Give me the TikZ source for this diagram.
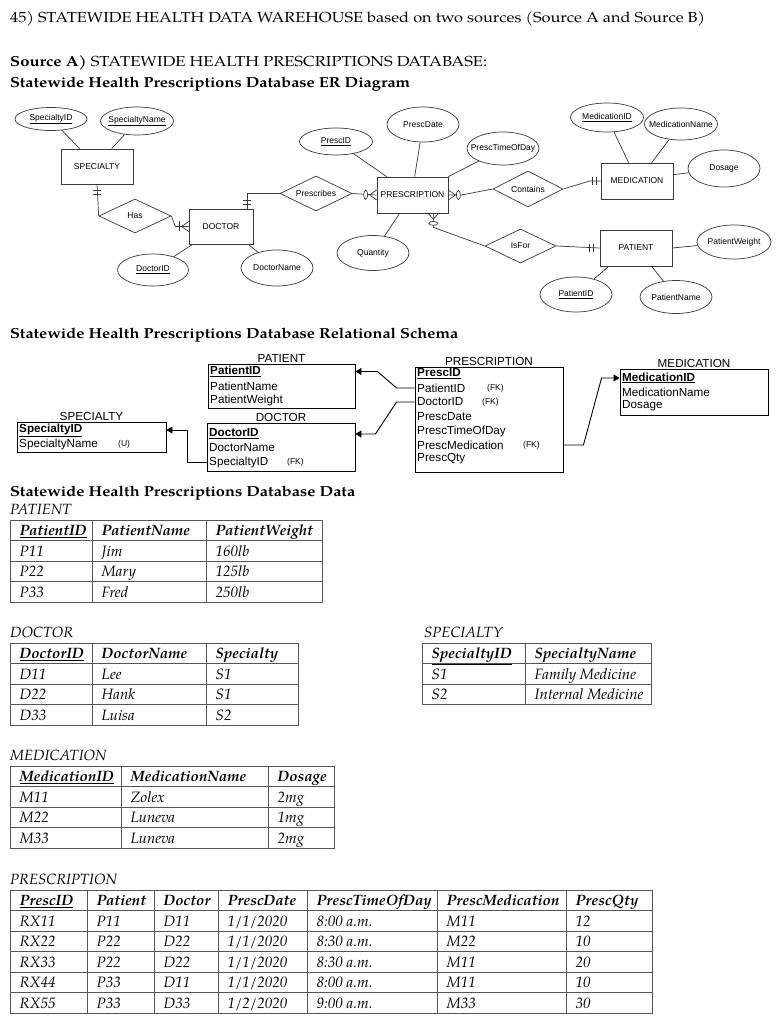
\documentclass[tikz,border=0pt]{standalone}
\usepackage{fontspec}
\setmainfont{texgyrepagella}[Extension=.otf,UprightFont=*-regular,BoldFont=*-bold,ItalicFont=*-italic,BoldItalicFont=*-bolditalic]
\newfontfamily\arialf{Liberation Sans}
\usepackage{graphicx}
\usetikzlibrary{shapes.geometric,arrows.meta,calc}
\definecolor{erc}{HTML}{3A3A3A}
\definecolor{tbc}{HTML}{555555}
\newcommand\zw[1]{\makebox[0pt][c]{#1}}
\newcommand\hd[1]{\textbf{#1}}
\newcommand\fitw[2]{\resizebox{#1}{\height}{#2}}
\newcommand\trow[5]{%
  \foreach \cc [count=\k from 0] in {#5} {%
    \pgfmathsetmacro\cx{{#4}[\k]}%
    \node[cell] (#1-#2-\k) at (\cx+9.5,#3+15.5) {\cc};
  }}
\tikzset{
 ent/.style={draw=erc, line width=0.7pt, inner sep=0pt, font=\arialf\fontsize{8.5}{10}\selectfont},
 attr/.style={ellipse, draw=erc, line width=0.7pt, inner sep=0pt, font=\arialf\fontsize{8.5}{10}\selectfont},
 rel/.style={diamond, draw=erc, line width=0.7pt, inner sep=0pt, font=\arialf\fontsize{8.5}{10}\selectfont},
 erl/.style={draw=erc, line width=0.7pt},
 sbox/.style={draw, line width=0.9pt, inner sep=0pt},
 slabel/.style={anchor=base, inner sep=0pt, font=\arialf\fontsize{11.7}{13}\selectfont},
 srow/.style={anchor=west, inner sep=0pt, font=\arialf\fontsize{11.7}{13}\selectfont},
 fk/.style={anchor=west, inner sep=0pt, font=\arialf\fontsize{8.5}{9}\selectfont},
 sar/.style={draw, line width=0.9pt, -{Triangle[length=6pt,width=7pt]}},
 tb/.style={draw=tbc, line width=0.9pt},
 cell/.style={anchor=base west, inner sep=0pt, font=\fontsize{15}{17}\selectfont\itshape},
 head/.style={anchor=base west, inner sep=0pt, font=\fontsize{14.5}{17}\selectfont},
 tlabel/.style={anchor=base west, inner sep=0pt, font=\fontsize{14.8}{17}\selectfont\itshape},
}
\begin{document}
\begin{tikzpicture}[x=1pt,y=-1pt]
\fill[white] (0,0) rectangle (783,1024);
\useasboundingbox (0,0) rectangle (783,1024);

% ---------- headings ----------
\node[head] (h1) at (10,23) {\fitw{695pt}{45) STATEWIDE HEALTH DATA WAREHOUSE based on two sources (Source A and Source B)}};
\node[head] (h2) at (10,67) {\fitw{477pt}{\textbf{Source A)} STATEWIDE HEALTH PRESCRIPTIONS DATABASE:}};
\node[head] (h3) at (10,88) {\fitw{400pt}{\textbf{Statewide Health Prescriptions Database ER Diagram}}};
\node[head] (h4) at (10,338) {\fitw{448pt}{\textbf{Statewide Health Prescriptions Database Relational Schema}}};
\node[head] (h5) at (10,496) {\fitw{345pt}{\textbf{Statewide Health Prescriptions Database Data}}};

% ---------- ER diagram ----------
\node[ent, minimum width=72pt, minimum height=35pt] (specialty) at (97,166.5) {SPECIALTY};
\node[attr, minimum width=72pt, minimum height=23pt] (spid) at (51,119) {\zw{\underline{SpecialtyID}}};
\node[attr, minimum width=73pt, minimum height=28pt] (spname) at (137,121) {\zw{\underline{SpecialtyName}}};
\node[rel, minimum width=72pt, minimum height=34pt] (has) at (135,216) {\zw{Has}};
\node[ent, minimum width=64pt, minimum height=35pt] (doctor) at (221,226.5) {DOCTOR};
\node[attr, minimum width=71pt, minimum height=32pt] (docid) at (153,270) {\zw{\underline{DoctorID}}};
\node[attr, minimum width=72pt, minimum height=36pt] (docname) at (277,268) {\zw{DoctorName}};
\node[rel, minimum width=72pt, minimum height=35pt] (prescribes) at (316,193.5) {\zw{Prescribes}};
\node[ent, minimum width=71pt, minimum height=36pt] (prescription) at (412.5,195) {PRESCRIPTION};
\node[attr, minimum width=73pt, minimum height=27pt] (prescid) at (336,141.5) {\zw{\underline{PrescID}}};
\node[attr, minimum width=72pt, minimum height=35pt] (prescdate) at (423,124.5) {\zw{PrescDate}};
\node[attr, minimum width=72pt, minimum height=33pt] (presctime) at (503,148.5) {\zw{PrescTimeOfDay}};
\node[attr, minimum width=72pt, minimum height=35pt] (quantity) at (373,253) {\zw{Quantity}};
\node[rel, minimum width=70pt, minimum height=36pt] (contains) at (528,189) {\zw{Contains}};
\node[ent, minimum width=72pt, minimum height=36pt] (medication) at (637,181) {MEDICATION};
\node[attr, minimum width=73pt, minimum height=29pt] (medid) at (607,117.5) {\zw{\underline{MedicationID}}};
\node[attr, minimum width=73pt, minimum height=32pt] (medname) at (681,124) {\zw{MedicationName}};
\node[attr, minimum width=72pt, minimum height=37pt] (dosage) at (724,168.5) {\zw{Dosage}};
\node[rel, minimum width=71pt, minimum height=34pt] (isfor) at (520.5,246) {\zw{IsFor}};
\node[ent, minimum width=72pt, minimum height=36pt] (patient) at (636,248) {PATIENT};
\node[attr, minimum width=74pt, minimum height=34pt] (pweight) at (734,242) {\zw{PatientWeight}};
\node[attr, minimum width=72pt, minimum height=35pt] (patid) at (576,294.5) {\zw{\underline{PatientID}}};
\node[attr, minimum width=72pt, minimum height=33pt] (patname) at (676,297) {\zw{PatientName}};

% attribute links
\draw[erl] (spid) -- ($(specialty.north west)+(19,0)$);
\draw[erl] (spname) -- ($(specialty.north west)+(51,0)$);
\draw[erl] (docid) -- ($(doctor.south west)+(4,0)$);
\draw[erl] (docname) -- ($(doctor.south east)+(-5,0)$);
\draw[erl] (prescid) -- ($(prescription.north west)+(10,0)$);
\draw[erl] (prescdate) -- ($(prescription.north west)+(38,0)$);
\draw[erl] (presctime) -- (prescription.north east);
\draw[erl] (quantity) -- ($(prescription.south west)+(23,0)$);
\draw[erl] (medid) -- ($(medication.north west)+(28,0)$);
\draw[erl] (medname) -- ($(medication.north west)+(51,0)$);
\draw[erl] ($(medication.north east)+(0,12)$) -- (dosage);
\draw[erl] (patient.east) -- (pweight);
\draw[erl] (patid) -- ($(patient.south west)+(9,0)$);
\draw[erl] (patname) -- ($(patient.south west)+(52,0)$);

% SPECIALTY - Has - DOCTOR
\draw[erl] (specialty.south) -- (has.west);
\draw[erl] ($(specialty.south)+(-4,6)$) -- ++(8,0);
\draw[erl] ($(specialty.south)+(-4,10)$) -- ++(8,0);
\draw[erl] (has.east) -- ($(has.east)+(4,10.5)$) -- (doctor.west);
\draw[erl] ($(doctor.west)+(0,-5)$) -- ($(doctor.west)+(-7,0)$) -- ($(doctor.west)+(0,5)$);
\draw[erl] ($(doctor.west)+(-9,-5)$) -- ++(0,10);

% DOCTOR - Prescribes - PRESCRIPTION
\draw[erl] ($(doctor.north east)+(-6,0)$) |- (prescribes.west);
\draw[erl] ($(doctor.north east)+(-10,-4)$) -- ++(8,0);
\draw[erl] ($(doctor.north east)+(-10,-8)$) -- ++(8,0);
\draw[erl] (prescribes.east) -- (prescription.west);
\draw[erl] ($(prescription.west)+(0,-5)$) -- ($(prescription.west)+(-7,0)$) -- ($(prescription.west)+(0,5)$);
\draw[erl, fill=white] ($(prescription.west)+(-11,-0.3)$) ellipse [x radius=2pt, y radius=4.5pt];

% PRESCRIPTION - Contains - MEDICATION
\draw[erl] (prescription.east) -- ++(13,0) -- (contains.west);
\draw[erl] ($(prescription.east)+(0,-5)$) -- ($(prescription.east)+(7,0)$) -- ($(prescription.east)+(0,5)$);
\draw[erl, fill=white] ($(prescription.east)+(10,0)$) ellipse [x radius=2pt, y radius=4.5pt];
\draw[erl] (contains.east) -- ($(medication.west)+(-11,0)$) -- (medication.west);
\draw[erl] ($(medication.west)+(-8,-4)$) -- ++(0,8);
\draw[erl] ($(medication.west)+(-4,-4)$) -- ++(0,8);

% PRESCRIPTION - IsFor - PATIENT
\draw[erl] ($(prescription.south east)+(-15,0)$) -- ++(0,14) -- (isfor.west);
\draw[erl] ($(prescription.south east)+(-20,0)$) -- ($(prescription.south east)+(-15,6)$) -- ($(prescription.south east)+(-10,0)$);
\draw[erl, fill=white] ($(prescription.south east)+(-15,10)$) ellipse [x radius=4.5pt, y radius=2pt];
\draw[erl] (isfor.east) -- (patient.west);
\draw[erl] ($(patient.west)+(-10,-4)$) -- ++(0,8);
\draw[erl] ($(patient.west)+(-6,-4)$) -- ++(0,8);

% ---------- Relational schema ----------
\node[sbox, minimum width=147pt, minimum height=44pt] (patbox) at (281.5,386) {};
\node[slabel] (patlbl) at ($(patbox.north)+(0,-1.5)$) {PATIENT};
\node[srow] (pat1) at (210,371.5) {\textbf{\underline{PatientID}}};
\node[srow] (pat2) at (210,386) {PatientName};
\node[srow] (pat3) at (210,400) {PatientWeight};

\node[sbox, minimum width=149pt, minimum height=30pt] (spbox) at (91.5,437) {};
\node[slabel] (splbl) at ($(spbox.north)+(0,-1.5)$) {SPECIALTY};
\node[srow] (sp1) at (19,430) {\textbf{\underline{SpecialtyID}}};
\node[srow] (sp2) at (19,444) {SpecialtyName};
\node[fk] (spu) at (118,444.5) {(U)};

\node[sbox, minimum width=148pt, minimum height=47.5pt] (docbox) at (281,447.25) {};
\node[slabel] (doclbl) at ($(docbox.north)+(0,-1.5)$) {DOCTOR};
\node[srow] (doc1) at (209,434) {\textbf{\underline{DoctorID}}};
\node[srow] (doc2) at (209,448) {DoctorName};
\node[srow] (doc3) at (209,462) {SpecialtyID};
\node[fk] (docfk) at (287,462.5) {(FK)};

\node[sbox, minimum width=148pt, minimum height=105pt] (prbox) at (489,419.5) {};
\node[slabel] (prlbl) at ($(prbox.north)+(0,-1.5)$) {PRESCRIPTION};
\node[srow] (pr1) at (417,374) {\textbf{\underline{PrescID}}};
\node[srow] (pr2) at (417,388) {PatientID};
\node[srow] (pr3) at (417,402) {DoctorID};
\node[srow] (pr4) at (417,416.5) {PrescDate};
\node[srow] (pr5) at (417,431) {PrescTimeOfDay};
\node[srow] (pr6) at (417,445) {PrescMedication};
\node[srow] (pr7) at (417,459) {PrescQty};
\node[fk] (prfk1) at (487,388.5) {(FK)};
\node[fk] (prfk2) at (482,402.5) {(FK)};
\node[fk] (prfk3) at (523,445.5) {(FK)};

\node[sbox, minimum width=148pt, minimum height=46pt] (medbox) at (694,392) {};
\node[slabel] (medlbl) at ($(medbox.north)+(0,-1.5)$) {MEDICATION};
\node[srow] (med1) at (622,378) {\textbf{\underline{MedicationID}}};
\node[srow] (med2) at (622,392) {MedicationName};
\node[srow] (med3) at (622,406) {Dosage};

\draw[sar] (doc3 -| docbox.west) -- ++(-19,0) |- (spbox.east |- sp1);
\draw[sar] (pr2 -| prbox.west) -- ++(-18,0) -- ($(patbox.east |- pat1)+(22,0)$) -- (patbox.east |- pat1);
\draw[sar] (pr3 -| prbox.west) -- ++(-18,0) -- ($(docbox.east |- doc1)+(20,0)$) -- (docbox.east |- doc1);
\draw[sar] (pr6 -| prbox.east) -- ++(20,0) -- ($(medbox.west |- med1)+(-18,0)$) -- (medbox.west |- med1);

% ---------- Data tables ----------
\node[tlabel] (lpat) at (10,514.5) {PATIENT};
\draw[tb] (10,520) rectangle (322,602);
\foreach \xx in {92,206} \draw[tb] (\xx,520) -- (\xx,602);
\foreach \yy in {540.5,561,581.5} \draw[tb] (10,\yy) -- (322,\yy);
\trow{pat}{0}{520}{10,92,206}{\hd{\underline{PatientID}},\hd{PatientName},\hd{PatientWeight}}
\trow{pat}{1}{540.5}{10,92,206}{P11,Jim,160lb}
\trow{pat}{2}{561}{10,92,206}{P22,Mary,125lb}
\trow{pat}{3}{581.5}{10,92,206}{P33,Fred,250lb}

\node[tlabel] (ldoc) at (10,637.5) {DOCTOR};
\draw[tb] (10,643) rectangle (298,725);
\foreach \xx in {92,206} \draw[tb] (\xx,643) -- (\xx,725);
\foreach \yy in {663.5,684,704.5} \draw[tb] (10,\yy) -- (298,\yy);
\trow{doc}{0}{643}{10,92,206}{\hd{\underline{DoctorID}},\hd{DoctorName},\hd{Specialty}}
\trow{doc}{1}{663.5}{10,92,206}{D11,Lee,S1}
\trow{doc}{2}{684}{10,92,206}{D22,Hank,S1}
\trow{doc}{3}{704.5}{10,92,206}{D33,Luisa,S2}

\node[tlabel] (lspec) at (424,637.5) {SPECIALTY};
\draw[tb] (422,643) rectangle (651,704.5);
\draw[tb] (525,643) -- (525,704.5);
\foreach \yy in {663.5,684} \draw[tb] (422,\yy) -- (651,\yy);
\trow{spec}{0}{643}{422,525}{\hd{\underline{SpecialtyID}},\hd{SpecialtyName}}
\trow{spec}{1}{663.5}{422,525}{S1,Family Medicine}
\trow{spec}{2}{684}{422,525}{S2,Internal Medicine}

\node[tlabel] (lmed) at (10,760.5) {MEDICATION};
\draw[tb] (10,766) rectangle (334,848);
\foreach \xx in {121,268} \draw[tb] (\xx,766) -- (\xx,848);
\foreach \yy in {786.5,807,827.5} \draw[tb] (10,\yy) -- (334,\yy);
\trow{med}{0}{766}{10,121,268}{\hd{\underline{MedicationID}},\hd{MedicationName},\hd{Dosage}}
\trow{med}{1}{786.5}{10,121,268}{M11,Zolex,2mg}
\trow{med}{2}{807}{10,121,268}{M22,Luneva,1mg}
\trow{med}{3}{827.5}{10,121,268}{M33,Luneva,2mg}

\node[tlabel] (lpres) at (10,884.5) {PRESCRIPTION};
\draw[tb] (10,890) rectangle (652,1013);
\foreach \xx in {87,154,218,307,437,566} \draw[tb] (\xx,890) -- (\xx,1013);
\foreach \yy in {910.5,931,951.5,972,992.5} \draw[tb] (10,\yy) -- (652,\yy);
\trow{pres}{0}{890}{10,87,154,218,307,437,566}{\hd{\underline{PrescID}},\hd{Patient},\hd{Doctor},\hd{PrescDate},\hd{PrescTimeOfDay},\hd{PrescMedication},\hd{PrescQty}}
\trow{pres}{1}{910.5}{10,87,154,218,307,437,566}{RX11,P11,D11,1/1/2020,8:00 a.m.,M11,12}
\trow{pres}{2}{931}{10,87,154,218,307,437,566}{RX22,P22,D22,1/1/2020,8:30 a.m.,M22,10}
\trow{pres}{3}{951.5}{10,87,154,218,307,437,566}{RX33,P22,D22,1/1/2020,8:30 a.m.,M11,20}
\trow{pres}{4}{972}{10,87,154,218,307,437,566}{RX44,P33,D11,1/1/2020,8:00 a.m.,M11,10}
\trow{pres}{5}{992.5}{10,87,154,218,307,437,566}{RX55,P33,D33,1/2/2020,9:00 a.m.,M33,30}
\end{tikzpicture}
\end{document}
